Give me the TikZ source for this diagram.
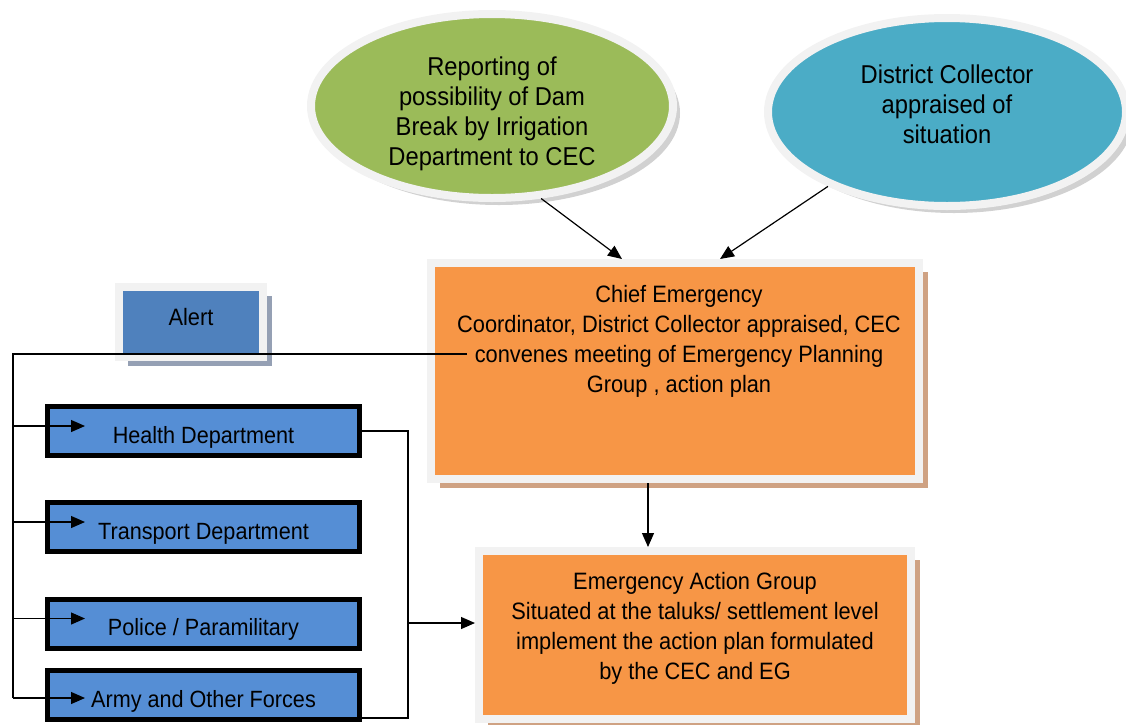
\documentclass[tikz,border=0pt]{standalone}
\usepackage{fontspec}
\setmainfont{Liberation Sans}[FakeStretch=0.92]
\usetikzlibrary{shapes.geometric,shadows,arrows.meta,calc}

\definecolor{damgreen}{HTML}{9BBB59}
\definecolor{dcteal}{HTML}{4BACC6}
\definecolor{cecorange}{HTML}{F79646}
\definecolor{alertblue}{HTML}{4F81BD}
\definecolor{deptblue}{HTML}{558ED5}
\definecolor{framegrey}{HTML}{F2F2F2}
\definecolor{tanshadow}{HTML}{CFA283}
\definecolor{blueshadow}{HTML}{95A0B4}

\tikzset{
    frame/.style={draw=framegrey,line width=8pt,inner sep=0pt},
    oval/.style={ellipse,frame,drop shadow={shadow xshift=7pt,shadow yshift=-7pt,fill=black!18,opacity=1}},
    planbox/.style={rectangle,frame,fill=cecorange,drop shadow={shadow xshift=9pt,shadow yshift=-9pt,fill=tanshadow,opacity=1}},
    deptbox/.style={rectangle,draw=black,line width=5pt,fill=deptblue,minimum width=312pt,minimum height=49pt,
        inner sep=0pt,text height=24pt,text depth=0pt,font=\fontsize{23.5}{28}\selectfont},
    txt/.style={align=center,font=\fontsize{23.7}{30}\selectfont},
    wire/.style={line width=1.2pt},
    arr/.style={wire,-{Triangle[length=14pt,width=12pt]}},
}

\begin{document}
\begin{tikzpicture}[x=1pt,y=-1pt]
    \useasboundingbox (0,0) rectangle (1126,724);
    % top ovals
    \node[oval,fill=damgreen,minimum width=362pt,minimum height=184pt] (dam) at (492,106) {};
    \node[txt,font=\fontsize{25.8}{30}\selectfont] (damtext) at (492,114)
        {Reporting of\\possibility of Dam\\Break by Irrigation\\Department to CEC};
    \node[oval,fill=dcteal,minimum width=358pt,minimum height=188pt] (dc) at (947,112) {};
    \node[txt,font=\fontsize{25.8}{30}\selectfont] (dctext) at (947,104)
        {District Collector\\appraised of\\situation};

    % planning and action boxes
    \node[planbox,minimum width=488pt,minimum height=216pt] (cec) at (675,371) {};
    \node[txt] (cectext) at (679,341)
        {Chief Emergency\\Coordinator, District Collector appraised, CEC\\convenes meeting of Emergency Planning\\Group , action plan};
    \node[planbox,minimum width=432pt,minimum height=168pt] (eag) at (695,635) {};
    \node[txt] (eagtext) at (695,628)
        {Emergency Action Group\\Situated at the taluks/ settlement level\\implement the action plan formulated\\by the CEC and EG};

    \node[rectangle,frame,fill=alertblue,minimum width=144pt,minimum height=70pt,txt,text height=17pt,text depth=10pt,
        drop shadow={shadow xshift=9pt,shadow yshift=-9pt,fill=blueshadow,opacity=1}] (alert) at (191,322) {Alert};

    % departments
    \node[deptbox] (hd) at (203.5,431) {Health Department};
    \node[deptbox] (td) at (203.5,527) {Transport Department};
    \node[deptbox] (pd) at (203.5,623.5) {Police / Paramilitary};
    \node[deptbox] (ad) at (203.5,695) {Army and Other Forces};

    % connectors
    \draw[arr] (dam.-62) -- ($(cec.north)+(-53,0)$);
    \draw[arr] (dc.212) -- ($(cec.north)+(45,0)$);
    \coordinate (drop) at ($(cec.south)+(-27,0)$);
    \draw[arr] (drop) -- (drop |- eag.north);

    \coordinate (tap) at (467,354);
    \coordinate (trunk) at (13,354);
    \draw[wire] (tap) -- (trunk) -- ($(trunk |- ad.west)+(0,3)$);
    \foreach \d/\s in {hd/-5,td/-5,pd/-5,ad/3}
        \draw[arr] ($(trunk |- \d.west)+(0,\s)$) -- ($(\d.west)+(40,\s)$);

    \coordinate (join) at (408,623);
    \draw[wire] (hd.east) -| (join) |- ($(ad.south east)+(0,-4)$);
    \draw[arr] (join) -- (join -| eag.west);
\end{tikzpicture}
\end{document}
